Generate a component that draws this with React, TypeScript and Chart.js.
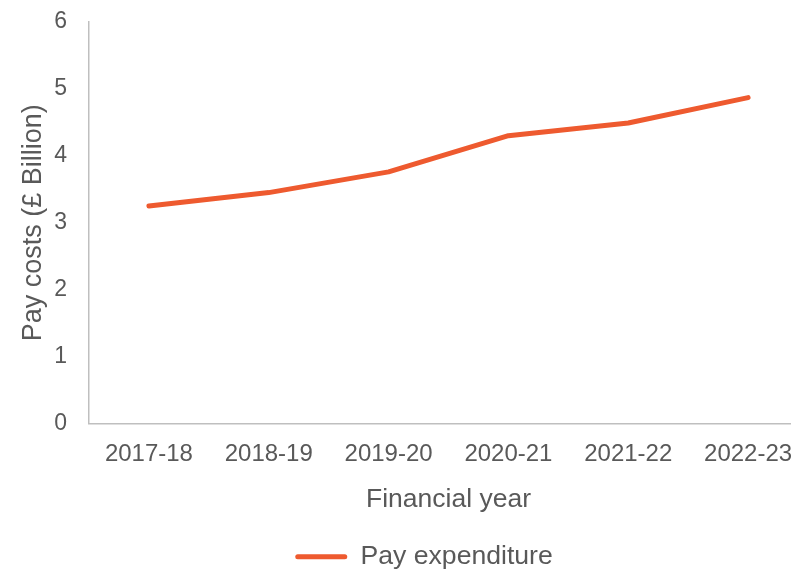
import React, { useEffect, useRef } from "react";
import { Chart, registerables } from "chart.js";

Chart.register(...registerables);

const categories = ["2017-18", "2018-19", "2019-20", "2020-21", "2021-22", "2022-23"];
const payExpenditure = [3.25, 3.45, 3.76, 4.3, 4.49, 4.87];
const seriesLabel = "Pay expenditure";
const xTitle = "Financial year";
const yTitle = "Pay costs (£ Billion)";

const TEXT = "#595959";
const LINE = "#EE5A2F";
const AXIS = "#BFBFBF";
const FONT = "'Liberation Sans', Arial, sans-serif";

const legendShift = {
  id: "legendShift",
  afterLayout(chart: any) {
    if (chart.legend) chart.legend.left += 32;
  },
};

export default function App() {
  const ref = useRef<HTMLCanvasElement | null>(null);
  useEffect(() => {
    if (!ref.current) return;
    const chart = new Chart(ref.current, {
      type: "line",
      data: {
        labels: categories,
        datasets: [
          {
            label: seriesLabel,
            data: payExpenditure,
            borderColor: LINE,
            backgroundColor: LINE,
            borderWidth: 5,
            pointRadius: 0,
            tension: 0,
            borderCapStyle: "round",
            borderJoinStyle: "round",
          },
        ],
      },
      plugins: [legendShift],
      options: {
        responsive: false,
        animation: false,
        layout: { padding: { top: 14, right: 20, bottom: 2, left: 0 } },
        plugins: {
          legend: {
            position: "bottom",
            labels: {
              color: TEXT,
              font: { family: FONT, size: 26.6 },
              boxWidth: 52,
              boxHeight: 5,
              padding: 28,
              useBorderRadius: true,
              borderRadius: 2.5,
              generateLabels: (c: any) =>
                c.data.datasets.map((d: any, i: number) => ({
                  text: d.label,
                  fillStyle: LINE,
                  strokeStyle: LINE,
                  lineWidth: 0,
                  fontColor: TEXT,
                  datasetIndex: i,
                  borderRadius: 2.5,
                })),
            },
          },
          tooltip: { enabled: false },
        },
        scales: {
          x: {
            offset: true,
            grid: { display: false, drawTicks: false },
            border: { display: true, color: AXIS, width: 1.5 },
            ticks: { color: TEXT, font: { family: FONT, size: 24 }, padding: 17, maxRotation: 0, autoSkip: false },
            title: { display: true, text: xTitle, color: TEXT, font: { family: FONT, size: 26.5 }, padding: { top: 0, bottom: 0 } },
            afterFit: (s: any) => {
              s.height = 92;
              s.paddingLeft = 0;
              s.paddingRight = 0;
            },
          },
          y: {
            min: 0,
            max: 6,
            grid: { display: false, drawTicks: false },
            border: { display: true, color: AXIS, width: 1.5 },
            ticks: { stepSize: 1, color: TEXT, font: { family: FONT, size: 23 }, padding: 22 },
            title: { display: true, text: yTitle, color: TEXT, font: { family: FONT, size: 27 }, padding: { top: 9, bottom: 0 } },
            afterFit: (s: any) => {
              s.width = 81;
              s.paddingTop = 0;
              s.paddingBottom = 0;
            },
          },
        },
      },
    });
    return () => chart.destroy();
  }, []);
  return (
    <div style={{ position: "fixed", left: 8, top: 8, width: 783, height: 561, overflow: "hidden" }}>
      <canvas ref={ref} width={820} height={574} style={{ display: "block" }} />
    </div>
  );
}
